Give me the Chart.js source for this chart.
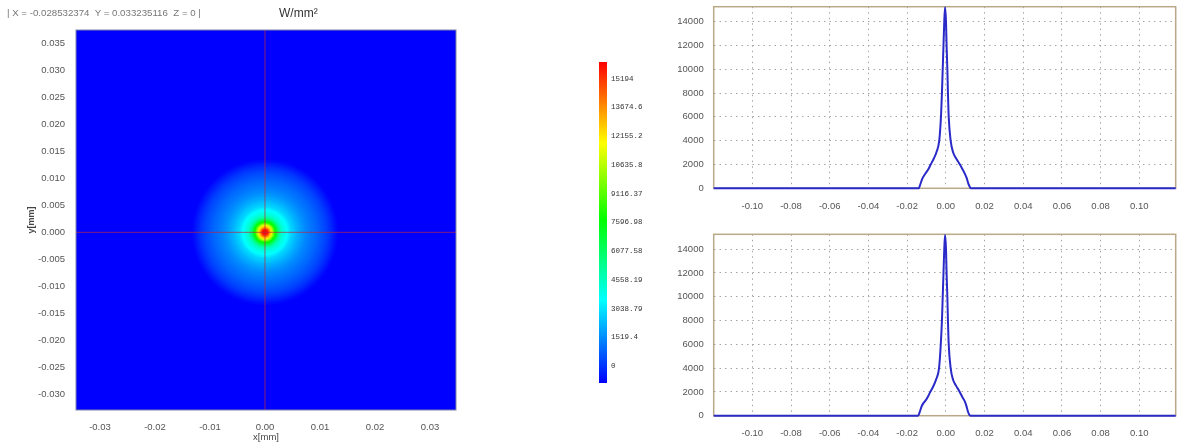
<!DOCTYPE html>
<html><head><meta charset="utf-8">
<script src="https://cdn.jsdelivr.net/npm/chart.js@4"></script>
<style>
html,body{margin:0;padding:0;background:#fff;width:1182px;height:447px;overflow:hidden}
canvas{position:absolute;filter:blur(0.5px)}
.t{position:absolute;font-family:"Liberation Sans",sans-serif;white-space:pre;filter:blur(0.4px)}
</style></head><body>
<canvas id="heat" style="left:0;top:0"></canvas>
<canvas id="bar" style="left:580px;top:40px"></canvas>
<canvas id="top" style="left:670px;top:0"></canvas>
<canvas id="bot" style="left:670px;top:225px"></canvas>
<div class="t" style="left:7px;top:7px;font-size:9.7px;color:#777">| X = -0.028532374  Y = 0.033235116  Z = 0 |</div>
<div class="t" style="left:279px;top:6px;font-size:12px;color:#333">W/mm²</div>
<script>
const colorValues = [0,3490,7720,11790,15194];
const colorStops = [[0,0,255],[0,255,255],[0,255,0],[255,255,0],[255,0,0]];
const barRange = [-899,16077];
const barTickValues = [0,1519.4,3038.79,4558.19,6077.58,7596.98,9116.37,10635.8,12155.2,13674.6,15194];
const barTickLabels = ['0','1519.4','3038.79','4558.19','6077.58','7596.98','9116.37','10635.8','12155.2','13674.6','15194'];
const ringRadius = [0.2,0.0136,0.0132,0.0128,0.0124,0.0120,0.0116,0.0112,0.0108,0.0104,0.0100,0.0096,0.0092,0.0088,0.0084,0.0080,0.0076,0.0072,0.0068,0.0064,0.0060,0.0056,0.0052,0.0048,0.0045,0.0042,0.0038,0.0034,0.0030,0.0027,0.0024,0.0022,0.0020,0.0018,0.0016,0.0014,0.0012,0.0010,0.0008,0.0006,0.0004,0.0002];
const ringValue = [0,0,130,300,470,640,800,930,1050,1150,1260,1380,1480,1560,1660,1760,1880,2000,2150,2300,2450,2650,2820,3000,3250,3500,3800,4200,4700,5400,6300,7000,7720,8800,10000,11200,12300,13000,14000,14800,15100,15194];
const heatXRange = [-0.03436,0.03473];
const heatYRange = [-0.03297,0.03754];
const profileXRange = [-0.11995,0.1188];
const profileYMax = 15250;
const topX = [-0.11995,-0.0140,-0.0132,-0.0122,-0.0112,-0.0105,-0.0092,-0.0078,-0.0062,-0.0048,-0.0034,-0.0025,-0.0020,-0.0016,-0.0012,-0.0008,-0.0004,0.0001,0.0004,0.0008,0.0011,0.0015,0.0025,0.0038,0.0052,0.0073,0.0088,0.0099,0.0108,0.0116,0.0124,0.0129,0.1188];
const topY = [0,0,320,800,1080,1250,1550,2000,2500,3050,4000,6000,8000,10000,12000,14000,15194,14000,12000,10000,8000,6000,4000,3000,2550,2000,1550,1200,850,420,120,0,0];
const bottomX = [-0.11995,-0.0143,-0.0135,-0.0125,-0.0115,-0.0106,-0.0094,-0.0080,-0.0064,-0.0050,-0.0035,-0.0026,-0.0020,-0.0016,-0.0012,-0.0008,-0.0004,0.0001,0.0004,0.0008,0.0011,0.0015,0.0025,0.0038,0.0052,0.0072,0.0086,0.0098,0.0106,0.0113,0.0120,0.0127,0.1188];
const bottomY = [0,0,300,780,1080,1250,1550,2000,2500,3050,4000,6000,8000,10000,12000,14000,15194,14000,12000,10000,8000,6000,4000,3000,2550,2000,1550,1200,850,420,120,0,0];
const profileTicks = [-0.10,-0.08,-0.06,-0.04,-0.02,0,0.02,0.04,0.06,0.08,0.10];
const profileYTicks = [0,2000,4000,6000,8000,10000,12000,14000];
const heatXTicks = [-0.03,-0.02,-0.01,0,0.01,0.02,0.03];
const heatYTicks = [-0.03,-0.025,-0.02,-0.015,-0.01,-0.005,0,0.005,0.01,0.015,0.02,0.025,0.03,0.035];

function colorOf(v){
  let i=0; while(i<colorValues.length-2 && v>colorValues[i+1]) i++;
  const f=Math.max(0,Math.min(1,(v-colorValues[i])/(colorValues[i+1]-colorValues[i])));
  return `rgb(${colorStops[i].map((a,k)=>Math.round(a+(colorStops[i+1][k]-a)*f))})`;
}
Chart.defaults.animation=false;
Chart.defaults.responsive=false;
Chart.defaults.devicePixelRatio=1;
Chart.defaults.font.family='"Liberation Sans",sans-serif';
Chart.defaults.plugins.legend.display=false;
Chart.defaults.plugins.tooltip.enabled=false;
function size(id,w,h){const c=document.getElementById(id);c.width=w;c.height=h;c.style.width=w+'px';c.style.height=h+'px';return c;}
const frame=(color,lw,after)=>({id:'frame',[after?'afterDatasetsDraw':'beforeDatasetsDraw'](c){const a=c.chartArea,x=c.ctx;x.save();x.strokeStyle=color;x.lineWidth=lw;x.strokeRect(a.left,a.top,a.right-a.left,a.bottom-a.top);x.restore();}});
const noPad=s=>{s.paddingTop=0;s.paddingBottom=0;s.paddingLeft=0;s.paddingRight=0;};

new Chart(size('heat',480,447),{
  type:'scatter',
  data:{datasets:[
    {data:[{x:heatXRange[0],y:0},{x:heatXRange[1],y:0}],showLine:true,borderColor:'rgba(190,40,60,.7)',borderWidth:1,pointRadius:0,order:0},
    {data:[{x:0,y:heatYRange[0]},{x:0,y:heatYRange[1]}],showLine:true,borderColor:'rgba(190,40,60,.7)',borderWidth:1,pointRadius:0,order:0},
    {data:ringRadius.map(()=>({x:0,y:0})),order:1,pointBorderWidth:0,clip:0,
     pointBackgroundColor:ctx=>colorOf(ringValue[ctx.dataIndex]),
     pointRadius:ctx=>{const s=ctx.chart.scales.x;return Math.abs(s.getPixelForValue(ringRadius[ctx.dataIndex])-s.getPixelForValue(0));}}
  ]},
  plugins:[frame('#7f86a8',1,true)],
  options:{
    layout:{padding:{top:30,left:26,right:24,bottom:0}},
    scales:{
      x:{type:'linear',min:heatXRange[0],max:heatXRange[1],afterFit:s=>{s.height=37;noPad(s);},afterBuildTicks:s=>{s.ticks=heatXTicks.map(v=>({value:v}));},
         grid:{display:false,drawTicks:false},border:{display:false},
         ticks:{font:{size:9.5},color:'#555',maxRotation:0,padding:12,callback:v=>v.toFixed(2)},
         title:{display:true,text:'x[mm]',font:{size:9.5},color:'#444',padding:{top:0,bottom:4}}},
      y:{type:'linear',min:heatYRange[0],max:heatYRange[1],afterFit:s=>{s.width=50;noPad(s);},afterBuildTicks:s=>{s.ticks=heatYTicks.map(v=>({value:v}));},
         grid:{display:false,drawTicks:false},border:{display:false},
         ticks:{font:{size:9.5},color:'#555',padding:11,callback:v=>v.toFixed(3)},
         title:{display:true,text:'y[mm]',font:{size:9,weight:'bold'},color:'#444',padding:{top:0,bottom:0}}}
    }
  }
});

new Chart(size('bar',90,360),{
  type:'bar',
  data:{labels:['scale'],datasets:[{data:[barRange],barPercentage:1,categoryPercentage:1,
    backgroundColor:ctx=>{const a=ctx.chart.chartArea;if(!a)return '#00f';
      const g=ctx.chart.ctx.createLinearGradient(0,a.bottom,0,a.top),w=barRange[1]-barRange[0];
      colorStops.forEach((c,i)=>{const v=i===0?barRange[0]:i===colorStops.length-1?barRange[1]:colorValues[i];g.addColorStop((v-barRange[0])/w,`rgb(${c})`);});return g;}}]},
  options:{
    layout:{padding:{left:19,right:0,top:22,bottom:17}},
    scales:{
      x:{display:false},
      y:{min:barRange[0],max:barRange[1],position:'right',afterFit:s=>{s.width=63;},
         afterBuildTicks:s=>{s.ticks=barTickValues.map(v=>({value:v}));},
         grid:{display:false,drawTicks:false},border:{display:false},
         ticks:{autoSkip:false,font:{size:7.5,family:'"Liberation Mono",monospace'},color:'#333',padding:4,
           callback:(v,i)=>barTickLabels[i]}}
    }
  }
});

function profileChart(id,xs,ys,h,padTop,axisH){
  return new Chart(size(id,512,h),{
    type:'scatter',
    data:{datasets:[{data:xs.map((x,i)=>({x,y:ys[i]})),showLine:true,borderColor:'#2a2ac8',borderWidth:2,pointRadius:0,cubicInterpolationMode:'monotone',clip:3}]},
    plugins:[frame('#b9a988',1.5)],
    options:{
      layout:{padding:{top:padTop,left:0,right:6.3,bottom:0}},
      scales:{
        x:{type:'linear',min:profileXRange[0],max:profileXRange[1],afterFit:s=>{s.height=axisH;noPad(s);},
           afterBuildTicks:s=>{s.ticks=profileTicks.map(v=>({value:v}));},
           grid:{color:'#a5a5a5',lineWidth:1,drawTicks:false},border:{display:true,color:'rgba(0,0,0,0)',dash:[1.5,4]},
           ticks:{font:{size:9.5},color:'#555',padding:12,maxRotation:0,callback:v=>v.toFixed(2)}},
        y:{type:'linear',min:0,max:profileYMax,afterFit:s=>{s.width=43.7;noPad(s);},
           afterBuildTicks:s=>{s.ticks=profileYTicks.map(v=>({value:v}));},
           grid:{color:'#a5a5a5',lineWidth:1,drawTicks:false},border:{display:true,color:'rgba(0,0,0,0)',dash:[1.5,4]},
           ticks:{font:{size:9.5},color:'#555',padding:10,callback:v=>String(v)}}
      }
    }
  });
}
profileChart('top',topX,topY,222,6.7,33.7);
profileChart('bot',bottomX,bottomY,222,9.3,31.3);
</script>
</body></html>
